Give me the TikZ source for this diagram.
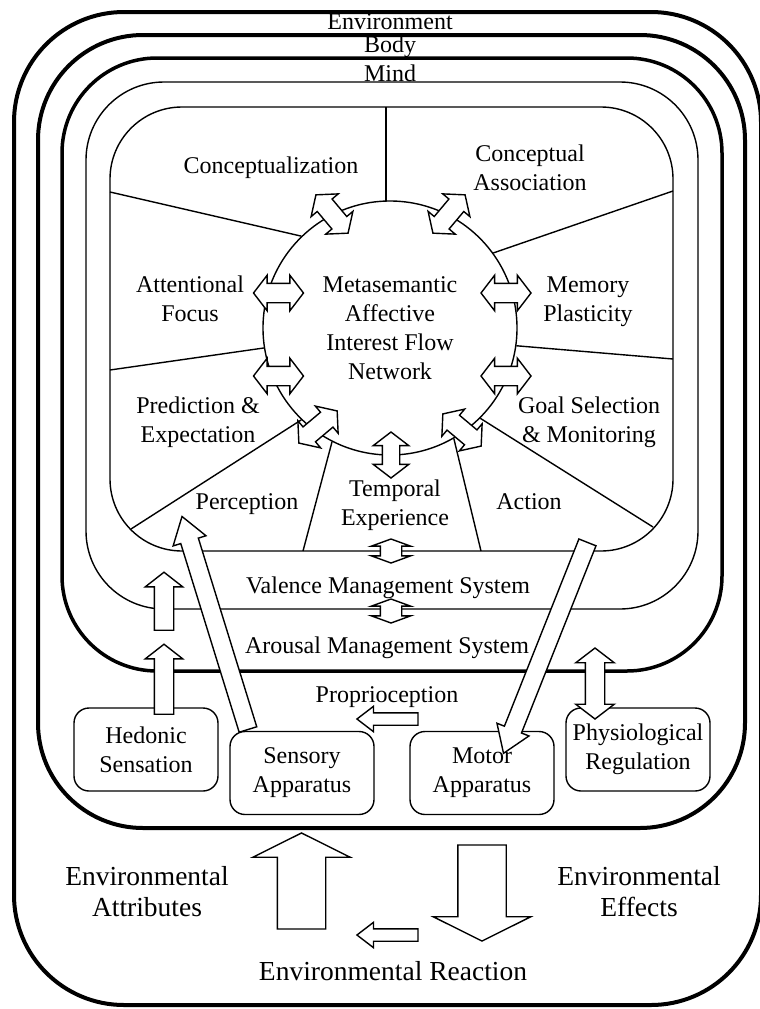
\documentclass[tikz,border=0pt]{standalone}
\usepackage{fontspec}
\setmainfont{Liberation Serif}
\usetikzlibrary{shapes.arrows,shapes.geometric}
\begin{document}
\begin{tikzpicture}[x=1pt,y=-1pt,
  txt/.style={font=\fontsize{24}{29}\selectfont, align=center, inner sep=0pt},
  bigtxt/.style={font=\fontsize{27.5}{31}\selectfont, align=center, inner sep=0pt},
  thinline/.style={line width=1.4pt},
  arr/.style={draw, fill=white, line width=1.4pt, inner xsep=0pt, outer sep=0pt},
  dbl/.style={arr, double arrow, double arrow tip angle=105, double arrow head extend=8pt, inner ysep=9pt, minimum height=50pt},
  smalldbl/.style={arr, double arrow, double arrow tip angle=140, double arrow head extend=9pt, inner ysep=10pt, minimum height=24pt},
  hedarr/.style={arr, single arrow, single arrow tip angle=104, single arrow head extend=9pt, inner ysep=9pt},
  longarr/.style={arr, single arrow, single arrow tip angle=68, single arrow head extend=8pt, inner ysep=8.5pt},
  smallsgl/.style={arr, single arrow, single arrow tip angle=75, single arrow head extend=6.5pt, inner ysep=5.5pt, minimum height=61pt},
  bigsgl/.style={arr, single arrow, single arrow tip angle=127, single arrow head extend=24.5pt, inner ysep=23.5pt, minimum height=96pt},
  pbox/.style={draw, line width=1.4pt, rounded corners=15pt, minimum width=144pt, minimum height=83pt, font=\fontsize{24}{29}\selectfont, align=center, inner sep=0pt},
]
\useasboundingbox (0,0) rectangle (760,1009);
% nested frames
\draw[line width=4pt, rounded corners=110pt] (14,12) rectangle (761,1005);
\draw[line width=4pt, rounded corners=105pt] (38,35) rectangle (745,828);
\draw[line width=3.5pt, rounded corners=95pt] (62,58) rectangle (722,671);
\draw[thinline, rounded corners=78pt] (86,82) rectangle (698,609);
\draw[thinline, rounded corners=72pt] (110,107) rectangle (673,551);

% frame labels
\node[txt, anchor=base] (envlbl) at (390,29) {Environment};
\node[txt, anchor=base] (bodylbl) at (390,52) {Body};
\node[txt, anchor=base] (mindlbl) at (390,81) {Mind};

% central circle
\node[circle, draw, line width=1.4pt, minimum size=254pt, inner sep=0pt,
      font=\fontsize{24}{29}\selectfont, align=center] (core) at (390,328)
      {Metasemantic\\Affective\\Interest Flow\\Network};

% sector dividers
\coordinate (d1) at (386,107);
\coordinate (d2) at (110,192);
\coordinate (d3) at (673,191);
\coordinate (d4) at (110,370);
\coordinate (d5) at (673,359);
\coordinate (d6) at (131,529);
\coordinate (d7) at (303,551);
\coordinate (d8) at (481,551);
\coordinate (d9) at (653,527);
\draw[thinline] (d1) -- (386,201);
\draw[thinline] (d2) -- (core.134);
\draw[thinline] (d3) -- (core.36);
\draw[thinline] (d4) -- (core.189);
\draw[thinline] (d5) -- (core.352);
\draw[thinline] (d6) -- (core.226);
\draw[thinline] (d7) -- (core.243);
\draw[thinline] (d8) -- (core.300);
\draw[thinline] (d9) -- (core.315);

% sector labels
\node[txt, anchor=base] (conc) at (271,173) {Conceptualization};
\node[txt] (assoc) at (530,168) {Conceptual\\Association};
\node[txt] (attn) at (190,299) {Attentional\\Focus};
\node[txt] (mem) at (588,302) {Memory\\Plasticity};
\node[txt] (pred) at (198,422) {Prediction \&\\Expectation};
\node[txt] (goal) at (589,422) {Goal Selection\\\& Monitoring};
\node[txt, anchor=base] (perc) at (247,509) {Perception};
\node[txt] (temp) at (395,505) {Temporal\\Experience};
\node[txt, anchor=base] (act) at (529,509) {Action};
\node[txt, anchor=base] (val) at (388,593) {Valence Management System};
\node[txt, anchor=base] (aro) at (387,653) {Arousal Management System};
\node[txt, anchor=base] (prop) at (387,702) {Proprioception};

% body boxes
\node[pbox] (hed) at (146,749.5) {Hedonic\\Sensation};
\node[pbox] (sens) at (302,773) {Sensory\\Apparatus};
\node[pbox] (mot) at (482,773) {Motor\\Apparatus};
\node[pbox] (phys) at (638,749.5) {Physiological\\Regulation};

% environment labels
\node[bigtxt] (eattr) at (147,892) {Environmental\\Attributes};
\node[bigtxt] (eeff) at (639,892) {Environmental\\Effects};
\node[bigtxt, anchor=base] (ereac) at (393,980) {Environmental Reaction};

% arrows around the core
\node[dbl, rotate=130] (a1) at (332,214) {};
\node[dbl, rotate=50] (a2) at (449,214) {};
\node[dbl] (a3) at (278.5,293) {};
\node[dbl] (a4) at (506,293) {};
\node[dbl] (a5) at (278.5,376) {};
\node[dbl] (a6) at (506,376) {};
\node[dbl, rotate=40] (a7) at (318,427) {};
\node[dbl, rotate=140] (a8) at (462,430) {};
\node[dbl, rotate=90, minimum height=46pt, inner ysep=8pt, double arrow head extend=9pt] (a9) at (391,455) {};
\node[smalldbl, rotate=90] (a10) at (391,551) {};
\node[smalldbl, rotate=90] (a11) at (391,611) {};

% body arrows
\node[hedarr, minimum height=58pt, rotate=90] (h1) at (164,605) {};
\node[hedarr, minimum height=70pt, rotate=90] (h2) at (164,683) {};
\node[longarr, minimum height=223pt, rotate=107.2] (sa) at (217,629.5) {};
\node[longarr, minimum height=227pt, rotate=248.3] (ma) at (548,641.5) {};
\node[arr, double arrow, double arrow tip angle=105, double arrow head extend=9.5pt,
      inner ysep=9pt, minimum height=71pt, rotate=90] (pa) at (595,683.5) {};
\node[smallsgl, rotate=180] (pr) at (391.5,719) {};

% environment arrows
\node[bigsgl, rotate=90] (eu) at (301.5,887) {};
\node[bigsgl, rotate=-90] (ed) at (482,887) {};
\node[smallsgl, rotate=180] (er) at (391.5,935) {};
\end{tikzpicture}
\end{document}
